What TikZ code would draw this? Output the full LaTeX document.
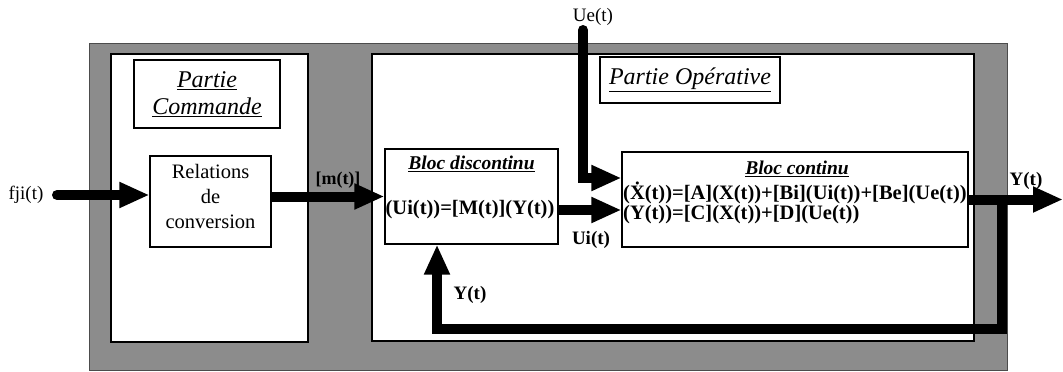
\documentclass[tikz,border=0pt]{standalone}
\usepackage{fontspec}
\setmainfont{Liberation Serif}
\usetikzlibrary{arrows.meta,calc}
\definecolor{bggray}{gray}{0.55}
\begin{document}
\begin{tikzpicture}[x=1pt,y=-1pt,
  panel/.style={draw=black,line width=1.6pt,fill=white},
  box/.style={draw=black,line width=1.1pt,fill=white,inner sep=0pt,align=center},
  lbl/.style={inner sep=0pt,font=\fontsize{19}{22}\selectfont},
  blbl/.style={inner sep=0pt,font=\fontsize{19}{22}\selectfont\bfseries},
  eqn/.style={inner sep=0pt,font=\fontsize{20.5}{23}\selectfont\bfseries},
  fat/.style={line width=10pt,line join=miter,-{Triangle[length=30pt,width=24pt]}},
  bttl/.style={inner sep=0pt,font=\fontsize{19.5}{22}\selectfont\bfseries\itshape}]
\path[use as bounding box] (0,0) rectangle (1063,372);
% background frame
\draw[fill=bggray,draw=black!70,line width=1pt] (89,43) rectangle (1007,370);
\draw[panel] (111,54) rectangle (308,342);
\draw[panel] (372,54) rectangle (974,341);
% boxes
\node[box,minimum width=146pt,minimum height=68pt,font=\fontsize{24}{27}\selectfont\itshape] (pc) at (207,94)
  {\underline{Partie}\\\underline{Commande}};
\node[box,minimum width=121pt,minimum height=91pt] (rel) at (210.5,201.5) {};
\node[inner sep=0pt,align=center,font=\fontsize{20.5}{25}\selectfont] (relT) at (210.5,196)
  {Relations\\de\\conversion};
\node[box,minimum width=180pt,minimum height=46pt,font=\fontsize{24}{27}\selectfont\itshape] (po) at (690,80)
  {\underline{Partie Opérative}};
\node[box,minimum width=173pt,minimum height=95pt] (disc) at (471.5,196.5) {};
\node[bttl] (discT) at (471.5,164) {\underline{Bloc discontinu}};
\node[eqn] (discEq) at (470,210) {(Ui(t))=[M(t)](Y(t))};
\node[box,minimum width=346pt,minimum height=95pt] (cont) at (795,199.5) {};
\node[bttl] (contT) at (797,169) {\underline{Bloc continu}};
\node[eqn,anchor=west] (contEq1) at (623,193) {(\.{X}(t))=[A](X(t))+[Bi](Ui(t))+[Be](Ue(t))};
\node[eqn,anchor=west] (contEq2) at (623,215) {(Y(t))=[C](X(t))+[D](Ue(t))};
% labels
\node[lbl] (fji) at (26,195) {fji(t)};
\node[blbl,font=\fontsize{18}{20}\selectfont\bfseries] (mt) at (338,180) {[m(t)]};
\node[lbl] (ue) at (593,17) {Ue(t)};
\node[blbl] (ui) at (591,240) {Ui(t)};
\node[blbl] (yfb) at (470,295) {Y(t)};
\node[blbl] (yout) at (1026,181) {Y(t)};
% coordinates
\coordinate (fjiStart) at (57,195);
\coordinate (ueTop) at (583,30);
\coordinate (ueBend) at (583,178);
\coordinate (yEnd) at (1063,199.5);
\coordinate (fb1) at (1002,199.5);
\coordinate (fb2) at (1002,329);
\coordinate (fb3) at (437,329);
% arrows
\draw[fat,line cap=round] (fjiStart) -- (rel.west |- fji);
\draw[fat] (rel.east |- disc.west) -- (disc.west);
\draw[fat] (disc.east |- discEq) -- (cont.west |- discEq);
\draw[fat,line cap=round] (ueTop) -- (ueBend) -- (cont.west |- ueBend);
\draw[fat] (cont.east) -- (yEnd);
\draw[fat] (fb1) -- (fb2) -- (fb3) -- (fb3 |- disc.south);
\end{tikzpicture}
\end{document}
